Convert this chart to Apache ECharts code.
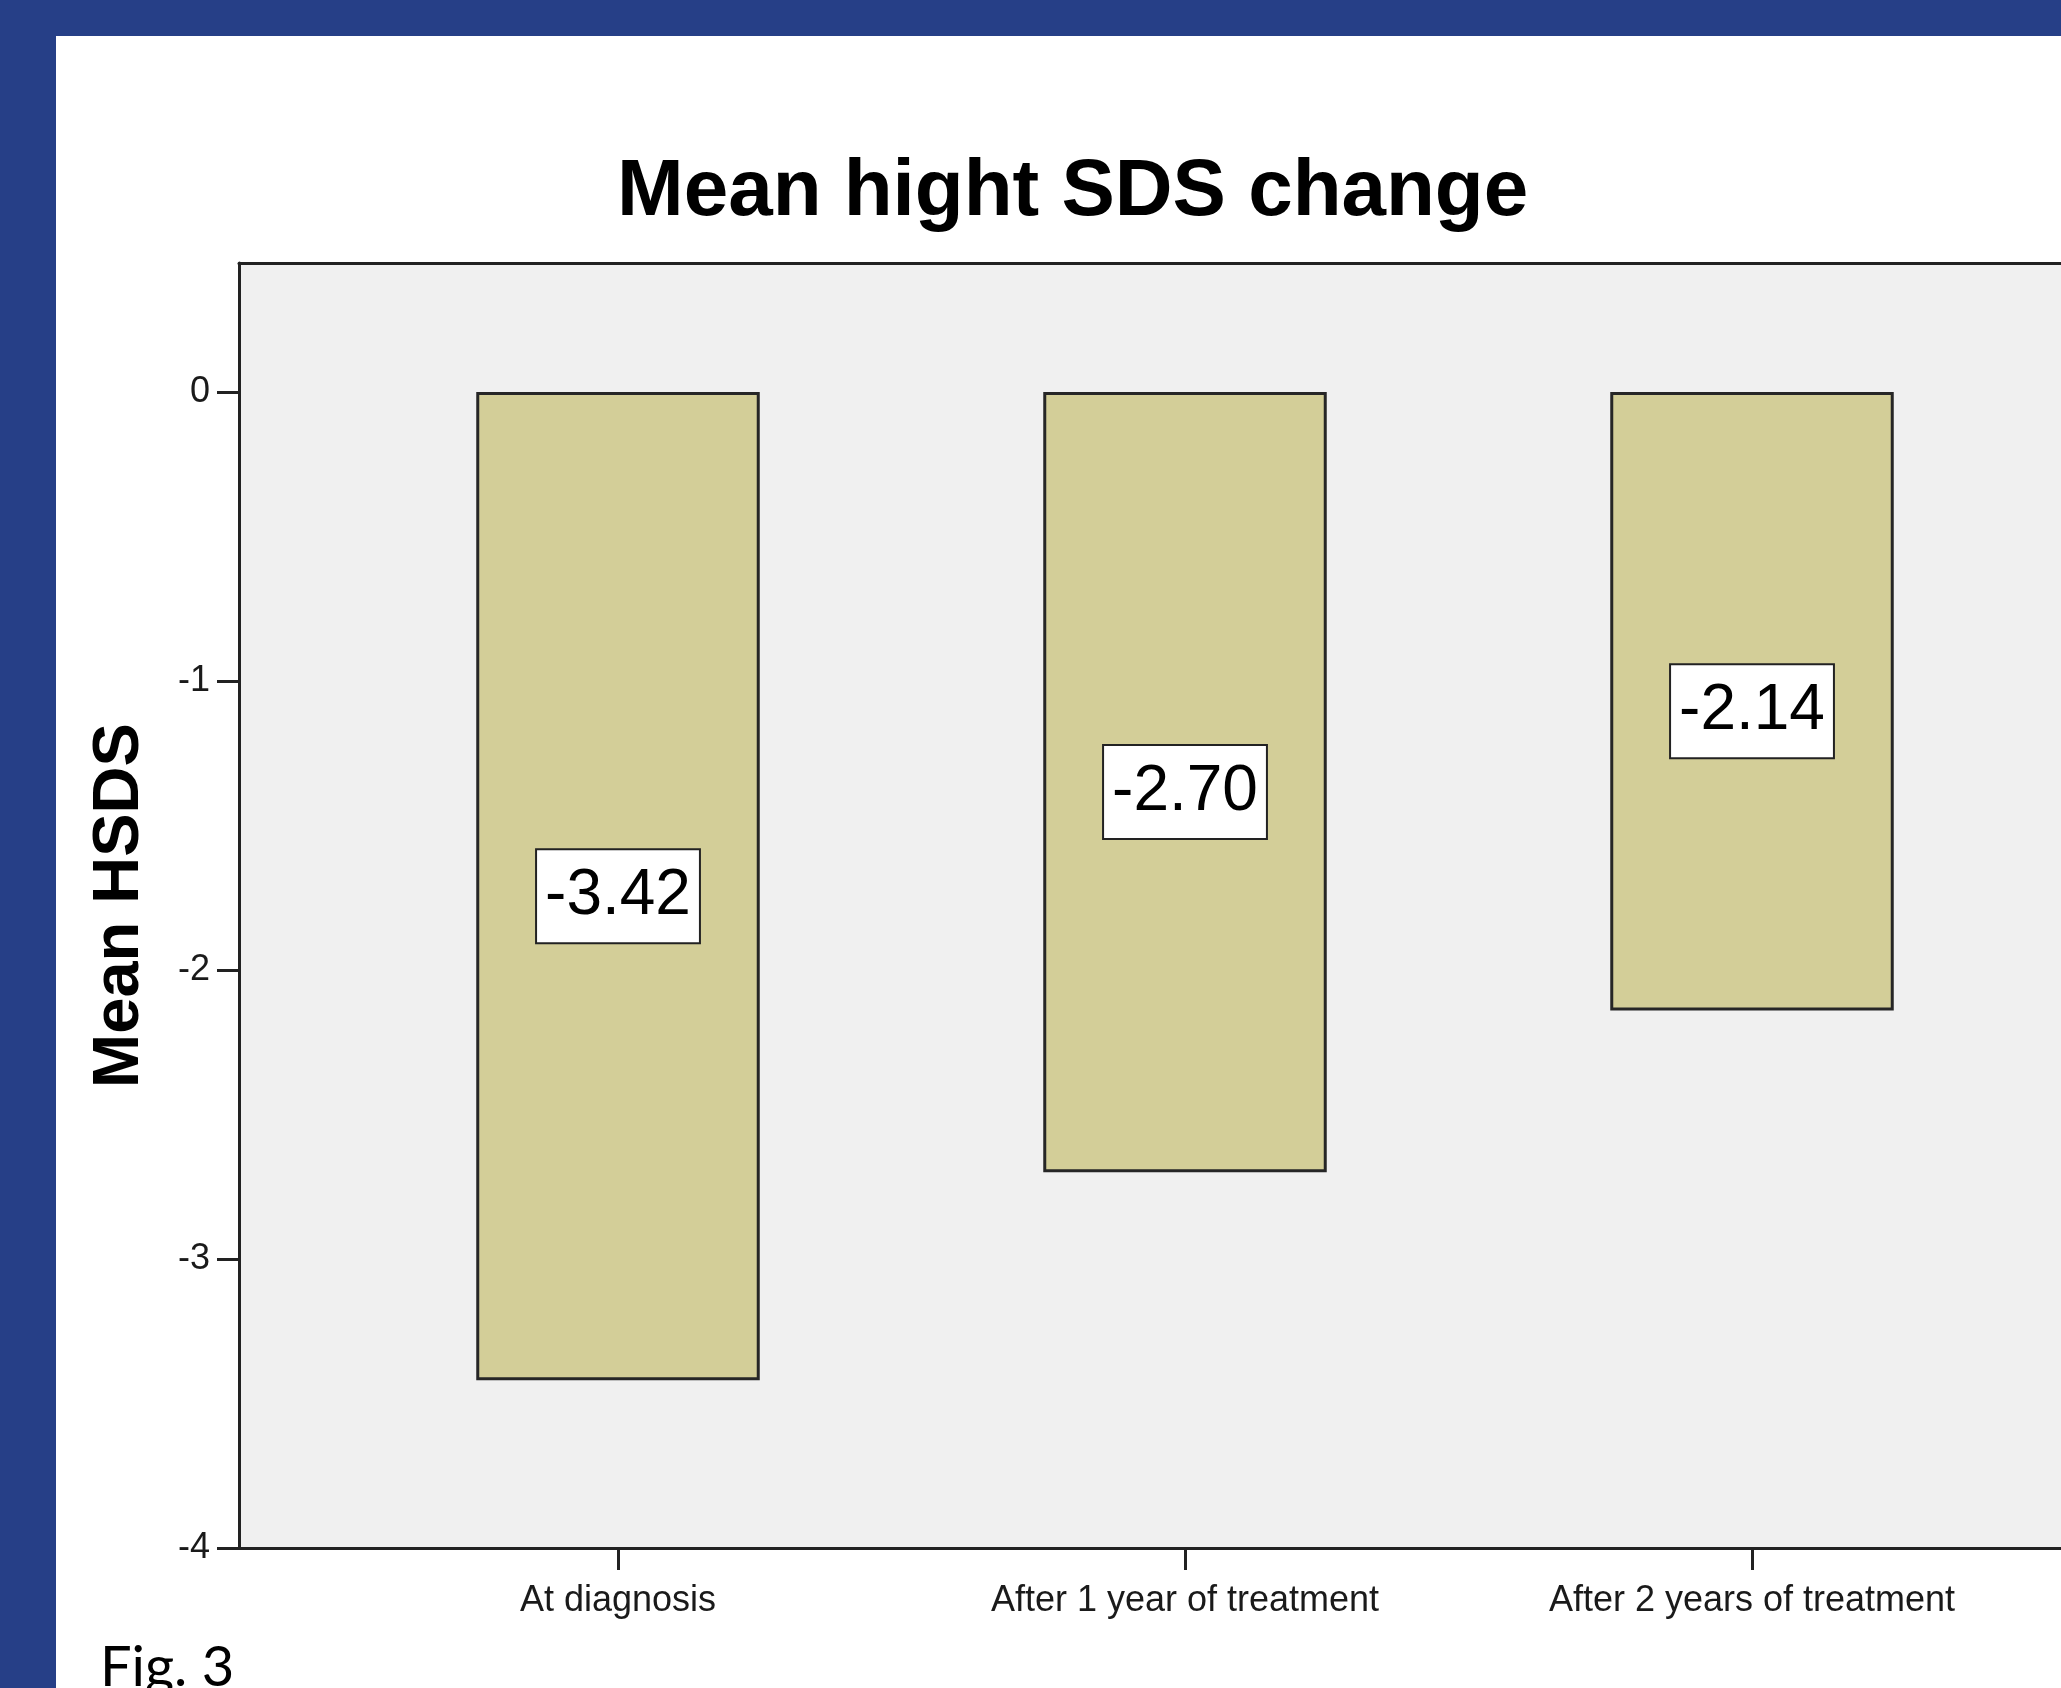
<!DOCTYPE html>
<html>
<head>
<meta charset="utf-8">
<title>Mean hight SDS change</title>
<script src="https://cdn.jsdelivr.net/npm/echarts@6/dist/echarts.min.js"></script>
<style>
  html, body { margin: 0; padding: 0; background: #ffffff; }
  #chart { width: 2061px; height: 1688px; }
</style>
</head>
<body>
<div id="chart"></div>
<script>
// Mean height SDS at each visit
const categories = ['At diagnosis', 'After 1 year of treatment', 'After 2 years of treatment'];
const meanHSDS = [-3.42, -2.70, -2.14];
const yTickValues = [0, -1, -2, -3, -4];
const yMin = -4;
const yMax = 0.446;

const FONT = '"Liberation Sans", Arial, sans-serif';
const INK = '#222222';
const BLUE = '#263f87';

// plot frame (grey panel, runs past the right edge) and the bar band area inside it
const frame = { left: 239, top: 263, width: 1891, height: 1285 };
const bands = { left: 334.5, top: 263, width: 1701, height: 1285 };

const chart = echarts.init(document.getElementById('chart'), null, { renderer: 'canvas' });

// a bare axis line used for the frame edges
const frameLine = {
  show: true, onZero: false, lineStyle: { color: INK, width: 3 }
};

chart.setOption({
  backgroundColor: '#ffffff',
  animation: false,
  title: {
    text: 'Mean hight SDS change',
    left: 612,
    top: 148,
    textStyle: { fontFamily: FONT, fontSize: 80, fontWeight: 'bold', color: '#000000' }
  },
  graphic: [
    { type: 'rect', shape: { x: 0, y: 0, width: 2061, height: 36 }, style: { fill: BLUE }, silent: true },
    { type: 'rect', shape: { x: 0, y: 0, width: 56, height: 1688 }, style: { fill: BLUE }, silent: true },
    {
      type: 'text', x: 100, y: 1668, silent: true,
      style: { text: 'Fig. 3', fontFamily: 'Lato, "Open Sans", sans-serif', fontSize: 56, fill: '#000000', verticalAlign: 'middle' }
    }
  ],
  grid: [
    Object.assign({ show: true, backgroundColor: '#f0f0f0', borderWidth: 0, outerBoundsMode: 'none' }, frame),
    Object.assign({ show: false, outerBoundsMode: 'none' }, bands)
  ],
  xAxis: [
    {
      gridIndex: 0, type: 'value', min: 0, max: 1, position: 'bottom',
      axisLine: frameLine,
      axisTick: { show: false }, axisLabel: { show: false }, splitLine: { show: false }
    },
    {
      gridIndex: 0, type: 'value', min: 0, max: 1, position: 'top',
      axisLine: frameLine,
      axisTick: { show: false }, axisLabel: { show: false }, splitLine: { show: false }
    },
    {
      gridIndex: 1, type: 'category', data: categories, boundaryGap: true,
      axisLine: { show: false, onZero: false },
      axisTick: { show: true, alignWithLabel: true, length: 22, inside: false, lineStyle: { color: INK, width: 3 } },
      axisLabel: { interval: 0, margin: 35, fontFamily: FONT, fontSize: 36, color: '#1a1a1a' },
      splitLine: { show: false }
    }
  ],
  yAxis: [
    {
      gridIndex: 0, type: 'value', min: yMin, max: yMax,
      name: 'Mean HSDS', nameLocation: 'middle', nameGap: 86,
      nameTextStyle: { fontFamily: FONT, fontSize: 65, fontWeight: 'bold', color: '#000000' },
      axisLine: frameLine,
      axisTick: { show: true, length: 22, customValues: yTickValues, lineStyle: { color: INK, width: 3 } },
      axisLabel: { margin: 29, customValues: yTickValues, fontFamily: FONT, fontSize: 36, color: '#1a1a1a' },
      splitLine: { show: false }
    },
    {
      gridIndex: 1, type: 'value', min: yMin, max: yMax, show: false
    }
  ],
  series: [
    {
      type: 'bar',
      xAxisIndex: 2,
      yAxisIndex: 1,
      data: meanHSDS,
      barWidth: '50%',
      itemStyle: { color: '#d3ce98', borderColor: '#262626', borderWidth: 3 },
      label: {
        show: true,
        position: 'inside',
        offset: [0, 10],
        formatter: p => p.value.toFixed(2),
        fontFamily: FONT,
        fontSize: 64,
        lineHeight: 64,
        color: '#000000',
        backgroundColor: '#ffffff',
        borderColor: INK,
        borderWidth: 2,
        padding: [14, 8]
      }
    }
  ]
});
</script>
</body>
</html>
